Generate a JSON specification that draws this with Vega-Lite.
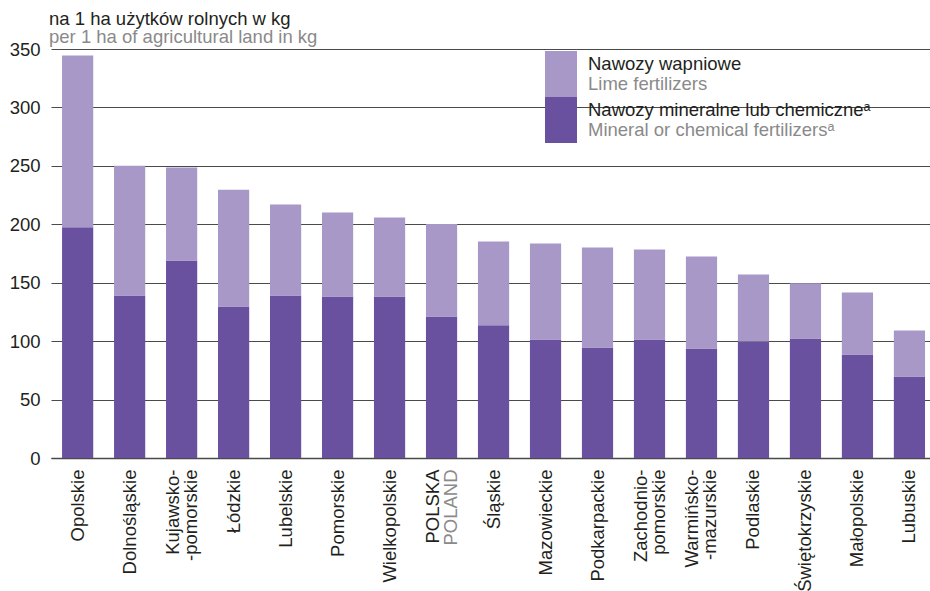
{
  "$schema": "https://vega.github.io/schema/vega-lite/v6.json",
  "width": 879,
  "height": 409,
  "autosize": {"type": "none"},
  "padding": {"left": 51, "top": 49, "right": 0, "bottom": 133},
  "background": "white",
  "config": {
    "view": {"stroke": null},
    "font": "Liberation Sans"
  },
  "title": {
    "text": "na 1 ha użytków rolnych w kg",
    "subtitle": "per 1 ha of agricultural land in kg",
    "anchor": "start",
    "frame": "group",
    "font": "Liberation Sans",
    "fontSize": 18.5,
    "fontWeight": "normal",
    "color": "#231f20",
    "subtitleFont": "Liberation Sans",
    "subtitleFontSize": 18.5,
    "subtitleColor": "#8a8a8a",
    "subtitlePadding": -1,
    "offset": -6,
    "dx": -2
  },
  "data": {
    "values": [
      {"region": "Opolskie", "series": "Nawozy mineralne lub chemiczne", "value": 197.5},
      {"region": "Opolskie", "series": "Nawozy wapniowe", "value": 147},
      {"region": "Dolnośląskie", "series": "Nawozy mineralne lub chemiczne", "value": 139},
      {"region": "Dolnośląskie", "series": "Nawozy wapniowe", "value": 111},
      {"region": "Kujawsko-pomorskie", "series": "Nawozy mineralne lub chemiczne", "value": 169},
      {"region": "Kujawsko-pomorskie", "series": "Nawozy wapniowe", "value": 79.5},
      {"region": "Łódzkie", "series": "Nawozy mineralne lub chemiczne", "value": 129.6},
      {"region": "Łódzkie", "series": "Nawozy wapniowe", "value": 100},
      {"region": "Lubelskie", "series": "Nawozy mineralne lub chemiczne", "value": 139},
      {"region": "Lubelskie", "series": "Nawozy wapniowe", "value": 78},
      {"region": "Pomorskie", "series": "Nawozy mineralne lub chemiczne", "value": 138.2},
      {"region": "Pomorskie", "series": "Nawozy wapniowe", "value": 71.8},
      {"region": "Wielkopolskie", "series": "Nawozy mineralne lub chemiczne", "value": 138.2},
      {"region": "Wielkopolskie", "series": "Nawozy wapniowe", "value": 67.6},
      {"region": "POLSKA", "series": "Nawozy mineralne lub chemiczne", "value": 121.1},
      {"region": "POLSKA", "series": "Nawozy wapniowe", "value": 79.2},
      {"region": "Śląskie", "series": "Nawozy mineralne lub chemiczne", "value": 113.5},
      {"region": "Śląskie", "series": "Nawozy wapniowe", "value": 71.7},
      {"region": "Mazowieckie", "series": "Nawozy mineralne lub chemiczne", "value": 101.4},
      {"region": "Mazowieckie", "series": "Nawozy wapniowe", "value": 82.1},
      {"region": "Podkarpackie", "series": "Nawozy mineralne lub chemiczne", "value": 94.6},
      {"region": "Podkarpackie", "series": "Nawozy wapniowe", "value": 85.5},
      {"region": "Zachodniopomorskie", "series": "Nawozy mineralne lub chemiczne", "value": 101.4},
      {"region": "Zachodniopomorskie", "series": "Nawozy wapniowe", "value": 77},
      {"region": "Warmińsko-mazurskie", "series": "Nawozy mineralne lub chemiczne", "value": 93.7},
      {"region": "Warmińsko-mazurskie", "series": "Nawozy wapniowe", "value": 78.7},
      {"region": "Podlaskie", "series": "Nawozy mineralne lub chemiczne", "value": 99.7},
      {"region": "Podlaskie", "series": "Nawozy wapniowe", "value": 57.3},
      {"region": "Świętokrzyskie", "series": "Nawozy mineralne lub chemiczne", "value": 102.3},
      {"region": "Świętokrzyskie", "series": "Nawozy wapniowe", "value": 47.3},
      {"region": "Małopolskie", "series": "Nawozy mineralne lub chemiczne", "value": 88.6},
      {"region": "Małopolskie", "series": "Nawozy wapniowe", "value": 53},
      {"region": "Lubuskie", "series": "Nawozy mineralne lub chemiczne", "value": 69.8},
      {"region": "Lubuskie", "series": "Nawozy wapniowe", "value": 39.3}
    ]
  },
  "layer": [
    {
      "mark": {"type": "bar"},
      "encoding": {
        "x": {
          "field": "region", "type": "nominal", "sort": null,
          "scale": {"paddingInner": 0.4, "paddingOuter": 0.154, "align": 0.69},
          "axis": {
            "orient": "bottom",
            "title": null,
            "labelAngle": -90,
            "labelPadding": 11,
            "labelFont": "Liberation Sans",
            "labelFontSize": 18.5,
            "labelColor": "#231f20",
            "labelLineHeight": 18,
            "labelLimit": 300,
            "labelOffset": {"condition": {"test": "indexof(['Kujawsko-pomorskie', 'Zachodniopomorskie', 'Warmińsko-mazurskie', 'POLSKA'], datum.value) >= 0", "value": -9}, "value": 0},
            "ticks": false,
            "grid": false,
            "domain": true,
            "domainColor": "#4a4a4a",
            "domainWidth": 1.5,
            "labelExpr": "datum.value == 'Kujawsko-pomorskie' ? ['Kujawsko-', '-pomorskie'] : datum.value == 'Zachodniopomorskie' ? ['Zachodnio-', 'pomorskie'] : datum.value == 'Warmińsko-mazurskie' ? ['Warmińsko-', '-mazurskie'] : datum.value"
          }
        },
        "y": {
          "field": "value", "type": "quantitative", "stack": "zero",
          "scale": {"domain": [0, 350], "nice": false},
          "axis": {
            "title": null,
            "values": [0, 50, 100, 150, 200, 250, 300, 350],
            "domain": false,
            "ticks": false,
            "grid": true,
            "gridColor": "#4a4a4a",
            "gridWidth": 1.2,
            "labelPadding": 11,
            "labelFont": "Liberation Sans",
            "labelFontSize": 18.5,
            "labelColor": "#231f20"
          }
        },
        "color": {
          "field": "series", "type": "nominal",
          "scale": {"domain": ["Nawozy wapniowe", "Nawozy mineralne lub chemiczne"], "range": ["#a898c7", "#6a51a0"]},
          "legend": {
            "orient": "none",
            "legendX": 487,
            "legendY": 2,
            "title": null,
            "padding": 0,
            "rowPadding": 0,
            "symbolType": "M-0.6957,-1H0.6957V1H-0.6957Z",
            "symbolSize": 2116,
            "symbolStrokeWidth": 0,
            "symbolOpacity": 1,
            "labelFont": "Liberation Sans",
            "labelFontSize": 18.5,
            "labelColor": "#231f20",
            "labelLimit": 500,
            "labelOffset": 4,
            "labelBaseline": "bottom",
            "labelExpr": "datum.label == 'Nawozy wapniowe' ? 'Nawozy wapniowe' : 'Nawozy mineralne lub chemiczneᵃ'"
          }
        },
        "order": {"field": "series", "sort": "ascending"}
      }
    },
    {
      "mark": {"type": "bar", "opacity": 0},
      "encoding": {
        "x": {
          "field": "region", "type": "nominal", "sort": null,
          "axis": {
            "orient": "bottom",
            "title": null,
            "labelAngle": -90,
            "labelPadding": 11,
            "labelFont": "Liberation Sans",
            "labelFontSize": 18.5,
            "labelColor": "#8a8a8a",
            "labelLimit": 300,
            "labelOffset": 9,
            "ticks": false,
            "grid": false,
            "domain": false,
            "labelExpr": "datum.value == 'POLSKA' ? 'POLAND' : ''"
          }
        },
        "y": {
          "field": "value", "type": "quantitative", "stack": "zero",
          "axis": {
            "title": null,
            "values": [0, 50, 100, 150, 200, 250, 300, 350],
            "domain": false,
            "ticks": false,
            "grid": true,
            "gridColor": "#4a4a4a",
            "gridWidth": 1.2,
            "labelPadding": 11,
            "labelFont": "Liberation Sans",
            "labelFontSize": 18.5,
            "labelColor": "#231f20"
          }
        },
        "color": {
          "field": "series", "type": "nominal",
          "legend": {
            "orient": "none",
            "legendX": 487,
            "legendY": 2,
            "title": null,
            "padding": 0,
            "rowPadding": 0,
            "symbolType": "M-0.6957,-1H0.6957V1H-0.6957Z",
            "symbolSize": 2116,
            "symbolStrokeWidth": 0,
            "symbolOpacity": 0,
            "labelFont": "Liberation Sans",
            "labelFontSize": 18.5,
            "labelColor": "#8a8a8a",
            "labelLimit": 500,
            "labelOffset": 4,
            "labelBaseline": "line-top",
            "labelExpr": "datum.label == 'Nawozy wapniowe' ? 'Lime fertilizers' : 'Mineral or chemical fertilizersᵃ'"
          }
        },
        "order": {"field": "series", "sort": "ascending"}
      }
    }
  ],
  "resolve": {"axis": {"x": "independent"}, "legend": {"color": "independent"}}
}
